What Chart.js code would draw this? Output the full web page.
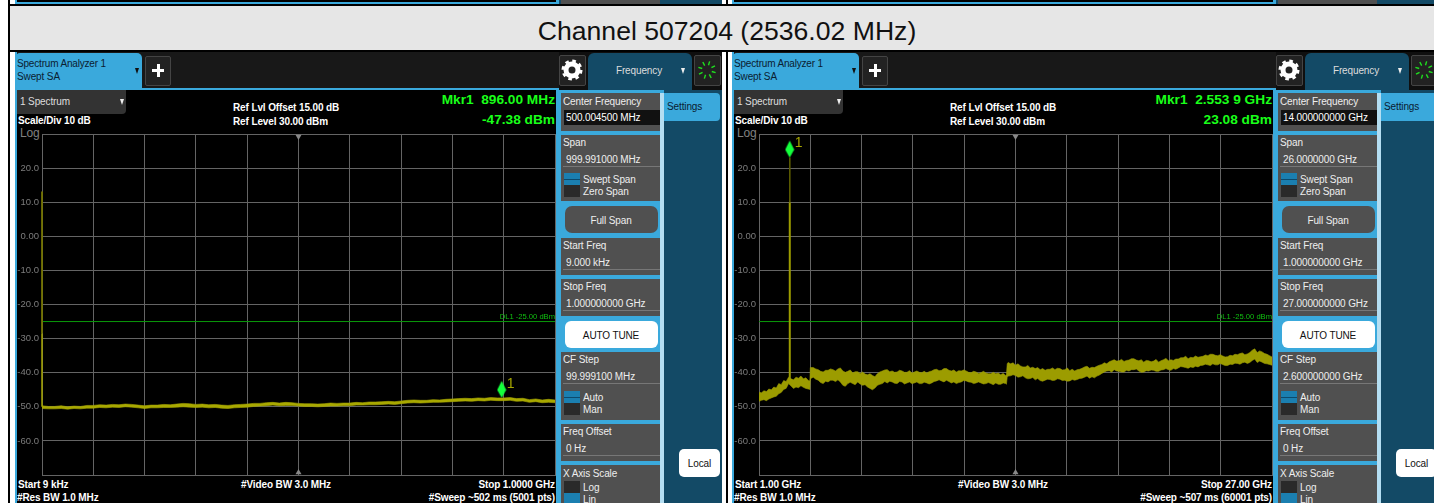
<!DOCTYPE html>
<html>
<head>
<meta charset="utf-8">
<script src="https://cdn.jsdelivr.net/npm/chart.js@4"></script>
<style>
  html, body { margin: 0; padding: 0; background: #fff; width: 1434px; height: 503px; overflow: hidden; }
  #page { position: absolute; left: 0; top: 0; width: 1434px; height: 503px; overflow: hidden; font-family: "Liberation Sans", Arial, sans-serif; }
  #page div, #page canvas, #page svg { position: absolute; }
  .t { white-space: nowrap; height: 16px; line-height: 16px; font-size: 10px; color: #eee; letter-spacing: -0.12px; }
  .b { font-weight: bold; color: #fff; }
</style>
</head>
<body>
<div id="page"></div>
<script>
// db axis, bottom to top
const yTickLabels = ['', '-60.0', '-50.0', '-40.0', '-30.0', '-20.0', '-10.0', '0.00', '10.0', '20.0', ''];

// left sweep, 9 kHz - 1 GHz (MHz)
const leftFreq = [0.009, 12.5, 25, 37.5, 50, 62.5, 75, 87.5,
  100, 112.5, 125, 137.5, 150, 162.5, 175, 187.5,
  200, 212.5, 225, 237.5, 250, 262.5, 275, 287.5,
  300, 312.5, 325, 337.5, 350, 362.5, 375, 387.5,
  400, 412.5, 425, 437.5, 450, 462.5, 475, 487.5,
  500, 512.5, 525, 537.5, 550, 562.5, 575, 587.5,
  600, 612.5, 625, 637.5, 650, 662.5, 675, 687.5,
  700, 712.5, 725, 737.5, 750, 762.5, 775, 787.5,
  800, 812.5, 825, 837.5, 850, 862.5, 875, 887.5,
  900, 912.5, 925, 937.5, 950, 962.5, 975, 987.5, 1000];
const leftUpper = [-49.7, -49.9, -49.9, -49.7, -50.0, -49.8, -49.9, -49.6,
  -49.6, -49.4, -49.5, -49.3, -49.4, -49.2, -49.3, -49.5,
  -49.7, -49.5, -49.5, -49.3, -49.4, -49.2, -49.0, -49.1,
  -49.3, -49.2, -49.4, -49.3, -49.5, -49.6, -49.4, -49.3,
  -49.2, -49.0, -49.0, -48.8, -48.7, -48.9, -48.7, -48.8,
  -49.0, -49.1, -49.1, -49.2, -49.1, -48.9, -49.0, -48.9,
  -48.9, -48.7, -48.8, -48.6, -48.6, -48.5, -48.4, -48.5,
  -48.3, -48.1, -48.0, -48.1, -48.1, -47.9, -48.0, -47.8,
  -47.7, -47.6, -47.5, -47.6, -47.4, -47.5, -47.3, -47.4,
  -47.4, -47.3, -47.6, -47.5, -47.9, -47.7, -48.0, -47.8, -48.0];
const leftLower = [-50.5, -50.6, -50.6, -50.5, -50.7, -50.5, -50.6, -50.4,
  -50.4, -50.2, -50.3, -50.1, -50.2, -50.0, -50.1, -50.3,
  -50.5, -50.3, -50.3, -50.2, -50.2, -50.1, -50.0, -50.1,
  -50.2, -50.1, -50.3, -50.2, -50.4, -50.5, -50.3, -50.2,
  -50.1, -49.9, -49.8, -49.7, -49.5, -49.7, -49.6, -49.6,
  -49.8, -49.9, -49.9, -50.0, -49.9, -49.8, -49.8, -49.7,
  -49.7, -49.5, -49.5, -49.4, -49.4, -49.3, -49.2, -49.3,
  -49.1, -48.9, -48.8, -48.9, -48.8, -48.7, -48.7, -48.6,
  -48.5, -48.4, -48.3, -48.4, -48.2, -48.3, -48.1, -48.2,
  -48.2, -48.1, -48.4, -48.3, -48.7, -48.5, -48.8, -48.7, -48.8];
const leftEdgeFreq = [0.009, 0.009];
const leftEdgeThin = [13.1, -28.4];
const leftEdgeThick = [-28.4, -50];

// right sweep, 1 - 27 GHz (GHz)
const rightFreq = [1, 1.125, 1.25, 1.375, 1.5, 1.625, 1.75, 1.875,
  2, 2.125, 2.25, 2.375, 2.5, 2.625, 2.75, 2.875,
  3, 3.125, 3.25, 3.375, 3.5, 3.58, 3.6, 3.75, 3.875,
  4, 4.125, 4.25, 4.375, 4.5, 4.625, 4.75, 4.875,
  5, 5.125, 5.25, 5.375, 5.5, 5.625, 5.75, 5.875,
  6, 6.125, 6.25, 6.375, 6.5, 6.625, 6.75, 6.875,
  7, 7.125, 7.25, 7.375, 7.5, 7.625, 7.75, 7.875,
  8, 8.125, 8.25, 8.375, 8.5, 8.625, 8.75, 8.875,
  9, 9.125, 9.25, 9.375, 9.5, 9.625, 9.75, 9.875,
  10, 10.125, 10.25, 10.375, 10.5, 10.625, 10.75, 10.875,
  11, 11.125, 11.25, 11.375, 11.5, 11.625, 11.75, 11.875,
  12, 12.125, 12.25, 12.375, 12.5, 12.625, 12.75, 12.875,
  13, 13.125, 13.25, 13.375, 13.5, 13.54, 13.58, 13.625, 13.75, 13.875,
  14, 14.125, 14.25, 14.375, 14.5, 14.625, 14.75, 14.875,
  15, 15.125, 15.25, 15.375, 15.5, 15.625, 15.75, 15.875,
  16, 16.125, 16.25, 16.375, 16.5, 16.625, 16.75, 16.875,
  17, 17.125, 17.25, 17.375, 17.5, 17.625, 17.75, 17.875,
  18, 18.125, 18.25, 18.375, 18.5, 18.625, 18.75, 18.875,
  19, 19.125, 19.25, 19.375, 19.5, 19.625, 19.75, 19.875,
  20, 20.125, 20.25, 20.375, 20.5, 20.625, 20.75, 20.875,
  21, 21.125, 21.25, 21.375, 21.5, 21.625, 21.75, 21.875,
  22, 22.125, 22.25, 22.375, 22.5, 22.625, 22.75, 22.875,
  23, 23.125, 23.25, 23.375, 23.5, 23.625, 23.75, 23.875,
  24, 24.125, 24.25, 24.375, 24.5, 24.625, 24.75, 24.875,
  25, 25.125, 25.25, 25.375, 25.5, 25.625, 25.75, 25.875,
  26, 26.125, 26.25, 26.375, 26.5, 26.625, 26.75, 26.875, 27];
const rightUpper = [-45.7, -45.9, -45.3, -45.5, -44.8, -45.0, -44.2, -44.5,
  -43.2, -43.5, -42.3, -42.6, -41.3, -41.8, -42.1, -41.3,
  -41.6, -41.0, -41.8, -41.5, -42.3, -42.4, -38.5, -38.5, -38.9,
  -39.1, -39.6, -39.8, -39.3, -39.3, -38.9, -39.1, -39.5,
  -38.9, -38.6, -39.5, -39.9, -39.6, -39.2, -40.1, -39.7,
  -39.7, -40.2, -39.8, -40.4, -40.6, -40.3, -40.8, -41.2,
  -40.3, -39.8, -39.5, -39.2, -39.1, -39.7, -39.5, -39.9,
  -39.8, -39.3, -39.5, -39.9, -39.9, -39.4, -40.1, -39.8,
  -39.5, -39.9, -40.0, -39.6, -40.1, -39.7, -39.5, -39.1,
  -39.0, -39.4, -39.3, -38.8, -38.8, -39.3, -39.5, -39.2,
  -39.8, -39.4, -39.5, -39.2, -39.5, -39.9, -40.0, -39.6,
  -39.8, -40.2, -40.0, -39.6, -40.1, -40.3, -40.3, -39.9,
  -40.3, -40.1, -40.6, -40.2, -40.8, -40.6, -37.4, -37.0, -37.4, -37.1,
  -37.8, -37.4, -38.0, -38.3, -38.3, -37.9, -38.6, -38.4,
  -38.8, -38.5, -39.1, -38.8, -39.3, -39.0, -39.0, -38.6,
  -39.1, -38.7, -38.8, -39.2, -39.1, -38.6, -39.4, -39.0,
  -39.5, -39.1, -39.0, -38.7, -38.3, -38.1, -38.7, -38.4,
  -38.5, -38.1, -37.8, -37.6, -37.1, -37.4, -36.8, -36.5,
  -36.2, -36.6, -36.5, -36.1, -36.7, -36.4, -36.3, -35.9,
  -35.9, -36.3, -36.5, -36.2, -36.9, -36.4, -36.5, -36.8,
  -36.6, -36.1, -36.9, -36.5, -36.2, -35.8, -36.5, -36.2,
  -36.4, -36.0, -36.0, -35.6, -35.6, -35.2, -35.9, -35.5,
  -35.6, -35.1, -35.5, -35.3, -35.2, -34.8, -35.0, -34.6,
  -34.6, -34.9, -35.0, -34.7, -35.1, -35.4, -35.3, -34.9,
  -35.0, -34.6, -34.7, -34.4, -34.2, -34.7, -34.5, -34.1,
  -33.4, -33.0, -34.1, -33.6, -33.9, -34.4, -34.6, -35.0, -35.4];
const rightLower = [-48.4, -48.1, -47.9, -48.2, -47.7, -47.4, -47.1, -46.9,
  -46.2, -45.8, -44.9, -44.6, -43.2, -43.9, -44.6, -44.2,
  -44.4, -43.8, -44.3, -44.6, -44.8, -44.9, -41.8, -41.3, -41.9,
  -42.2, -42.9, -43.2, -42.5, -42.7, -42.2, -42.2, -42.6,
  -42.1, -42.7, -43.7, -44.0, -43.2, -42.8, -43.2, -43.5,
  -42.7, -43.3, -43.7, -43.5, -44.2, -44.6, -45.0, -44.5,
  -43.7, -43.4, -43.2, -42.6, -43.0, -42.5, -42.7, -43.1,
  -43.2, -42.6, -42.7, -43.3, -43.0, -42.7, -43.2, -43.0,
  -42.7, -43.2, -43.2, -42.8, -43.0, -43.3, -43.0, -42.6,
  -42.4, -42.1, -42.4, -42.7, -42.2, -42.6, -43.0, -42.7,
  -43.2, -42.9, -42.7, -42.3, -42.4, -42.7, -42.8, -43.2,
  -43.0, -42.7, -43.0, -43.3, -43.2, -42.9, -43.2, -43.5,
  -43.0, -43.4, -43.4, -43.0, -43.2, -43.4, -41.3, -41.0, -40.9, -40.6,
  -40.8, -41.3, -41.2, -40.9, -41.5, -41.8, -41.7, -41.4,
  -42.1, -41.7, -42.3, -42.5, -42.2, -41.9, -42.0, -42.3,
  -42.2, -41.8, -41.9, -42.3, -42.2, -42.5, -42.4, -42.0,
  -42.2, -42.0, -41.7, -41.6, -41.3, -41.0, -41.6, -41.2,
  -41.5, -41.0, -40.7, -40.2, -39.8, -39.5, -39.4, -39.8,
  -39.1, -39.5, -39.6, -39.8, -39.8, -39.3, -39.5, -39.1,
  -39.1, -38.9, -39.5, -39.9, -39.8, -39.4, -39.5, -39.2,
  -39.3, -39.6, -39.6, -39.2, -39.1, -38.8, -39.1, -39.3,
  -38.8, -39.0, -38.6, -38.2, -38.3, -38.5, -38.7, -38.3,
  -38.5, -38.1, -38.3, -37.9, -37.8, -37.5, -37.7, -37.9,
  -37.4, -37.7, -37.7, -37.3, -37.6, -37.9, -37.9, -37.5,
  -37.6, -37.2, -37.3, -37.5, -37.1, -36.9, -37.3, -37.0,
  -36.4, -36.0, -37.0, -36.6, -36.9, -37.3, -37.4, -37.6, -37.8];
const rightPeakFreq = [2.56, 2.56];
const rightPeakThin = [23.08, 10];
const rightPeakThick = [10, -42];

const displayLine = -25;
const marker1 = { left: [896, -47.38], right: [2.5539, 23.08] };

// soft key text for each analyzer screen
const leftText = {
  mkrFreq: 'Mkr1  896.00 MHz', mkrAmp: '-47.38 dBm', start: 'Start 9 kHz', stop: 'Stop 1.0000 GHz',
  sweep: '#Sweep ~502 ms (5001 pts)', cf: '500.004500 MHz', span: '999.991000 MHz',
  startF: '9.000 kHz', stopF: '1.000000000 GHz', step: '99.999100 MHz'
};
const rightText = {
  mkrFreq: 'Mkr1  2.553 9 GHz', mkrAmp: '23.08 dBm', start: 'Start 1.00 GHz', stop: 'Stop 27.00 GHz',
  sweep: '#Sweep ~507 ms (60001 pts)', cf: '14.000000000 GHz', span: '26.0000000 GHz',
  startF: '1.000000000 GHz', stopF: '27.000000000 GHz', step: '2.600000000 GHz'
};

const page = document.getElementById('page');
const BLUE = '#3aa9dc', TEAL = '#134a66', GREY = '#505050';

function box(x, y, w, h, bg, extra) {
  const d = document.createElement('div');
  d.style.cssText = 'left:' + x + 'px;top:' + y + 'px;width:' + w + 'px;height:' + h + 'px;background:' + bg + ';' + (extra || '');
  page.appendChild(d);
  return d;
}
function text(x, cy, str, cls, extra) {
  const d = document.createElement('div');
  d.className = 't ' + (cls || '');
  d.textContent = str;
  d.style.cssText = 'left:' + x + 'px;top:' + (cy - 7) + 'px;' + (extra || '');
  page.appendChild(d);
  return d;
}
function textR(x, cy, str, cls, extra) {
  return text(x - 400, cy, str, cls, 'width:400px;text-align:right;' + (extra || ''));
}
function textC(x, cy, str, cls, extra) {
  return text(x - 200, cy, str, cls, 'width:400px;text-align:center;' + (extra || ''));
}
function arrow(x, y, color) {
  box(x, y, 0, 0, 'transparent', 'border-left:2.5px solid transparent;border-right:2.5px solid transparent;border-top:6px solid ' + color + ';');
}
function toggle(x, y, a, b, onFirst) {
  box(x + 1, y, 16, 12, onFirst ? '#1b7fb0' : '#2a2a2a');
  box(x + 1, y + 12, 16, 12, onFirst ? '#2a2a2a' : '#1b7fb0');
  if (onFirst) box(x + 1, y + 6, 16, 1, '#0d4a6c');
  text(x + 20, y + 6, a);
  text(x + 20, y + 18, b);
}
function field(x, y, h, label, value) {
  box(x, y, 99, h, GREY);
  box(x + 2, y + 31, 97, 1, '#777');
  text(x + 2, y + 7, label);
  text(x + 5, y + 24, value);
}
function icons(off) {
  const ns = 'http://www.w3.org/2000/svg';
  const gear = document.createElementNS(ns, 'svg');
  gear.setAttribute('width', 22); gear.setAttribute('height', 22);
  gear.style.cssText = 'left:' + (561 + off) + 'px;top:59px;';
  gear.innerHTML = '<circle cx="11" cy="11" r="6" fill="none" stroke="#fff" stroke-width="5"/>' +
    '<circle cx="11" cy="11" r="9.2" fill="none" stroke="#fff" stroke-width="2.6" stroke-dasharray="3.6 3.63"/>';
  page.appendChild(gear);
  const spin = document.createElementNS(ns, 'svg');
  spin.setAttribute('width', 22); spin.setAttribute('height', 22);
  spin.style.cssText = 'left:' + (696 + off) + 'px;top:59px;';
  let s = '';
  for (let i = 0; i < 8; i++) {
    const a = i * Math.PI / 4 + 0.3;
    s += '<line x1="' + (11 + 5 * Math.cos(a)) + '" y1="' + (11 + 5 * Math.sin(a)) + '" x2="' + (11 + 9 * Math.cos(a)) + '" y2="' + (11 + 9 * Math.sin(a)) + '" stroke="#1fe01f" stroke-width="1.4"/>';
  }
  spin.innerHTML = s;
  page.appendChild(spin);
}

function screen(off, t) {
  // tab bar
  box(15 + off, 52, 707, 451, '#0f0f0f');
  box(15 + off, 52, 544, 38, '#181818');
  box(15 + off, 53, 127, 36, BLUE, 'border-radius:5px 5px 0 0;');
  text(17 + off, 63, 'Spectrum Analyzer 1', '', 'color:#0b2030;letter-spacing:-0.18px;');
  text(17 + off, 76, 'Swept SA', '', 'color:#0b2030;');
  arrow(135 + off, 68, '#111');
  box(145 + off, 56, 24, 28, '#222', 'border:1px solid #444;border-radius:2px;');
  box(152 + off, 69, 12, 3, '#fff');
  box(156.5 + off, 64, 3, 13, '#fff');
  box(559 + off, 55, 25, 29, '#222', 'border:1px solid #444;border-radius:2px;');
  box(588 + off, 53, 104, 38, TEAL, 'border-radius:6px 6px 0 0;');
  textC(639 + off, 70, 'Frequency', '', 'color:#ddd;');
  arrow(681 + off, 68, '#eee');
  box(694 + off, 55, 25, 29, '#222', 'border:1px solid #444;border-radius:2px;');
  icons(off);

  // plot frame
  box(15 + off, 88, 544, 2, BLUE);
  box(15 + off, 52, 2, 451, BLUE);
  box(17 + off, 90, 539, 413, '#000');
  box(556 + off, 90, 3, 413, BLUE);

  // header text
  box(17 + off, 90, 109, 24, '#333', 'border-radius:0 0 4px 0;');
  text(20 + off, 101, '1 Spectrum', '', 'color:#ddd;');
  arrow(120 + off, 99, '#eee');
  text(233 + off, 107, 'Ref Lvl Offset 15.00 dB', 'b');
  text(233 + off, 121, 'Ref Level 30.00 dBm', 'b');
  text(18 + off, 120, 'Scale/Div 10 dB', 'b');
  text(20 + off, 132, 'Log', '', 'color:#808080;font-size:12px;');
  textR(555 + off, 99, t.mkrFreq, 'b', 'color:#19ff19;font-size:13.7px;letter-spacing:0;white-space:pre;');
  textR(555 + off, 119, t.mkrAmp, 'b', 'color:#19ff19;font-size:13.7px;letter-spacing:0;');

  // bottom text
  text(18 + off, 484, t.start, 'b');
  text(17 + off, 497, '#Res BW 1.0 MHz', 'b');
  textC(286 + off, 484, '#Video BW 3.0 MHz', 'b');
  textR(555 + off, 484, t.stop, 'b');
  textR(555 + off, 497, t.sweep, 'b');

  // soft keys
  box(559 + off, 90, 105, 413, BLUE);
  box(660 + off, 93, 4, 410, '#b4def2');
  box(664 + off, 90, 58, 413, TEAL);
  box(664 + off, 93, 56, 28, BLUE, 'border-radius:0 4px 4px 0;');
  text(667 + off, 106, 'Settings', '', 'color:#0b2030;');

  const x = 561 + off;
  box(x, 93, 99, 38, GREY);
  text(x + 2, 101, 'Center Frequency');
  box(x + 3, 110, 96, 15, '#111');
  text(x + 5, 117, t.cf, '', 'color:#fff;');

  box(x, 135, 99, 66, GREY);
  text(x + 2, 142, 'Span');
  text(x + 5, 159, t.span);
  box(x + 2, 166, 97, 1, '#777');
  toggle(x + 2, 173, 'Swept Span', 'Zero Span', true);

  box(565 + off, 206, 93, 27, GREY, 'border-radius:7px;');
  textC(611 + off, 220, 'Full Span');

  field(x, 238, 37, 'Start Freq', t.startF);
  field(x, 279, 37, 'Stop Freq', t.stopF);

  box(565 + off, 321, 93, 27, '#fff', 'border-radius:6px;');
  textC(611 + off, 335, 'AUTO TUNE', '', 'color:#111;');

  field(x, 352, 68, 'CF Step', t.step);
  toggle(x + 2, 391, 'Auto', 'Man', true);
  field(x, 424, 37, 'Freq Offset', '0 Hz');

  box(x, 465, 99, 38, GREY);
  text(x + 2, 473, 'X Axis Scale');
  toggle(x + 2, 481, 'Log', 'Lin', false);

  box(679 + off, 449, 41, 28, '#fff', 'border-radius:5px;');
  textC(699.5 + off, 463, 'Local', '', 'color:#111;');
}

function pairs(xs, ys) {
  return xs.map(function (v, i) { return { x: v, y: ys[i] }; });
}

function diamondIcon() {
  const c = document.createElement('canvas');
  c.width = 10; c.height = 36;
  const g = c.getContext('2d');
  g.fillStyle = '#14ff3c';
  g.beginPath();
  g.moveTo(5, 1); g.lineTo(9.5, 10); g.lineTo(5, 18); g.lineTo(0.5, 10);
  g.closePath(); g.fill();
  return c;
}

const labelPlugin = {
  id: 'labels',
  afterDatasetsDraw: function (chart, args, opts) {
    const x = chart.scales.x, y = chart.scales.y, g = chart.ctx;
    g.save();
    g.font = '7.6px "Liberation Sans", Arial, sans-serif';
    g.fillStyle = '#10c010';
    g.textAlign = 'right';
    g.textBaseline = 'bottom';
    g.fillText('DL1 -25.00 dBm', x.right, y.getPixelForValue(displayLine) - 1);
    g.font = '14px "Liberation Sans", Arial, sans-serif';
    g.fillStyle = '#a5a500';
    g.textAlign = 'left';
    g.textBaseline = 'middle';
    g.fillText('1', x.getPixelForValue(opts.marker[0]) + 5, y.getPixelForValue(opts.marker[1]) - 14);
    g.restore();
  }
};

function lineSet(data, color, width, extra) {
  return Object.assign({ data: data, borderColor: color, borderWidth: width, pointRadius: 0, tension: 0, fill: false }, extra || {});
}

function drawChart(left, xMin, xMax, center, sets, marker) {
  const c = document.createElement('canvas');
  c.width = 540; c.height = 365;
  c.style.cssText = 'left:' + left + 'px;top:125px;width:540px;height:365px;';
  page.appendChild(c);
  const all = sets.concat([
    lineSet([{ x: xMin, y: displayLine }, { x: xMax, y: displayLine }], '#0a9a0a', 1),
    { data: [{ x: marker[0], y: marker[1] }], pointStyle: diamondIcon(), pointRadius: 5, showLine: false, clip: false },
    { data: [{ x: center, y: 29.3 }], pointStyle: 'triangle', rotation: 180, pointRadius: 3.5, backgroundColor: '#888', borderWidth: 0, showLine: false },
    { data: [{ x: center, y: -69.3 }], pointStyle: 'triangle', pointRadius: 3.5, backgroundColor: '#888', borderWidth: 0, showLine: false }
  ]);
  return new Chart(c, {
    type: 'line',
    data: { datasets: all },
    plugins: [labelPlugin],
    options: {
      animation: false,
      responsive: false,
      maintainAspectRatio: false,
      parsing: false,
      normalized: true,
      layout: { autoPadding: false, padding: { top: 9, right: 1, bottom: 15, left: 0 } },
      plugins: { legend: { display: false }, tooltip: { enabled: false }, labels: { marker: marker } },
      scales: {
        x: {
          type: 'linear', min: xMin, max: xMax,
          ticks: { display: false, stepSize: (xMax - xMin) / 10 },
          grid: { color: '#646464', lineWidth: 1, drawTicks: false },
          border: { color: '#646464' },
          afterFit: function (s) { s.height = 0; }
        },
        y: {
          type: 'linear', min: -70, max: 30,
          ticks: {
            stepSize: 10, autoSkip: false, padding: 3, color: '#7c7c7c',
            font: { family: '"Liberation Sans", Arial, sans-serif', size: 9.5 },
            callback: function (v, i) { return yTickLabels[i]; }
          },
          grid: { color: '#646464', lineWidth: 1, drawTicks: false },
          border: { color: '#646464' },
          afterFit: function (s) { s.width = 26; }
        }
      }
    }
  });
}

// page frame
box(8, 0, 2, 503, '#000');
box(10, 4, 1424, 2, '#000');
box(10, 6, 1424, 44, '#e6e6e6');
box(10, 50, 1424, 2, '#000');
textC(727, 31, 'Channel 507204 (2536.02 MHz)', '', 'color:#111;font-size:26.6px;height:30px;line-height:30px;top:16px;letter-spacing:0;');

screen(0, leftText);
screen(717, rightText);
box(726, 52, 2, 451, '#000');

// strip of the row above
[0, 717].forEach(function (off) {
  box(15 + off, 0, 707, 4, TEAL);
  box(15 + off, 0, 544, 4, BLUE);
  box(17 + off, 0, 539, 2, '#000');
  box(561 + off, 0, 99, 4, GREY);
});
box(726, 0, 2, 4, '#000');

drawChart(16, leftFreq[0], 1000, 500.0045, [
  lineSet(pairs(leftFreq, leftUpper), '#a8a800', 0.6, { fill: '+1', backgroundColor: '#a8a800' }),
  lineSet(pairs(leftFreq, leftLower), '#a8a800', 0.6),
  lineSet(pairs(leftEdgeFreq, leftEdgeThin), '#777700', 1, { clip: false }),
  lineSet(pairs(leftEdgeFreq, leftEdgeThick), '#a5a500', 1.5, { clip: false })
], marker1.left);

drawChart(733, 1, 27, 14, [
  lineSet(pairs(rightFreq, rightUpper), '#9c9c00', 0.6, { fill: '+1', backgroundColor: '#9c9c00' }),
  lineSet(pairs(rightFreq, rightLower), '#9c9c00', 0.6),
  lineSet(pairs(rightPeakFreq, rightPeakThin), '#5c5c00', 1),
  lineSet(pairs(rightPeakFreq, rightPeakThick), '#9c9c00', 2)
], marker1.right);
</script>
</body>
</html>
